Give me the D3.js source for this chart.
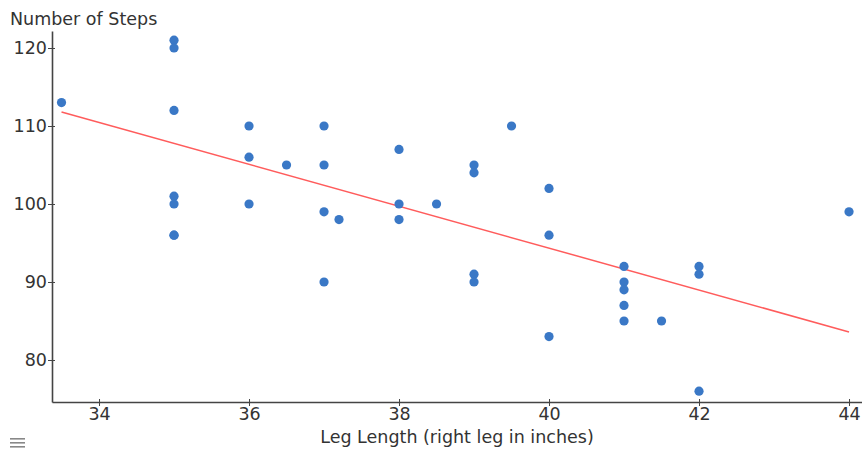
<!DOCTYPE html>
<html><head><meta charset="utf-8">
<script src="https://cdn.jsdelivr.net/npm/d3@7"></script>
<style>body{margin:0;background:#fff}svg{display:block}</style>
</head><body>
<script>
const legLength = [33.5,35,35,35,35,35,35,35,36,36,36,36.5,37,37,37,37,37.2,38,38,38,38.5,39,39,39,39,39.5,40,40,40,41,41,41,41,41,41.5,42,42,42,44];
const steps     = [113,121,120,112,101,100,96,96,110,106,100,105,110,105,99,90,98,107,100,98,100,105,104,91,90,110,102,96,83,92,90,89,87,85,85,92,91,76,99];
const trendX = [33.5, 44];
const trendY = [111.8, 83.6];
const xTicks = [34,36,38,40,42,44];
const yTicks = [80,90,100,110,120];

const W=862,H=450;
const svg=d3.select("body").append("svg").attr("width",W).attr("height",H);
const font="DejaVu Sans, Verdana, sans-serif";
const x=d3.scaleLinear().domain([33.373,44.173]).range([52,862]);
const y=d3.scaleLinear().domain([74.615,122.18]).range([402,31]);

const xa=svg.append("g").attr("transform","translate(0,402)")
  .call(d3.axisBottom(x).tickValues(xTicks).tickSize(4).tickSizeOuter(0).tickFormat(d3.format("d")));
const ya=svg.append("g").attr("transform","translate(52,0)")
  .call(d3.axisLeft(y).tickValues(yTicks).tickSize(4).tickSizeOuter(0).tickFormat(d3.format("d")));
[xa,ya].forEach(a=>{
  a.select(".domain").attr("stroke","#444").attr("stroke-width",1.6);
  a.selectAll(".tick line").attr("stroke","#444").attr("stroke-width",1);
  a.selectAll("text").attr("font-family",font).attr("font-size",17.5).attr("fill","#333");
});
xa.selectAll(".tick line").attr("y1",-3).attr("y2",4);
ya.selectAll(".tick line").attr("x1",3).attr("x2",-4);
xa.selectAll("text").attr("y",6);
ya.selectAll("text").attr("x",-5);

svg.append("path").datum(trendX.map((d,i)=>[d,trendY[i]]))
  .attr("d",d3.line().x(d=>x(d[0])).y(d=>y(d[1])))
  .attr("fill","none").attr("stroke","#ff5c5c").attr("stroke-width",1.5);

svg.append("g").selectAll("circle").data(legLength.map((d,i)=>[d,steps[i]])).join("circle")
  .attr("cx",d=>x(d[0])).attr("cy",d=>y(d[1])).attr("r",4.6).attr("fill","#3a78c6");

svg.append("text").attr("x",10).attr("y",25).attr("font-family",font).attr("font-size",17.5).attr("fill","#333").text("Number of Steps");
svg.append("text").attr("x",457).attr("y",443).attr("text-anchor","middle").attr("font-family",font).attr("font-size",17.5).attr("fill","#333").text("Leg Length (right leg in inches)");

const ham=svg.append("g").attr("fill","#888");
[438,442,446].forEach(v=>ham.append("rect").attr("x",10).attr("y",v).attr("width",15).attr("height",1.6));
</script>
</body></html>
